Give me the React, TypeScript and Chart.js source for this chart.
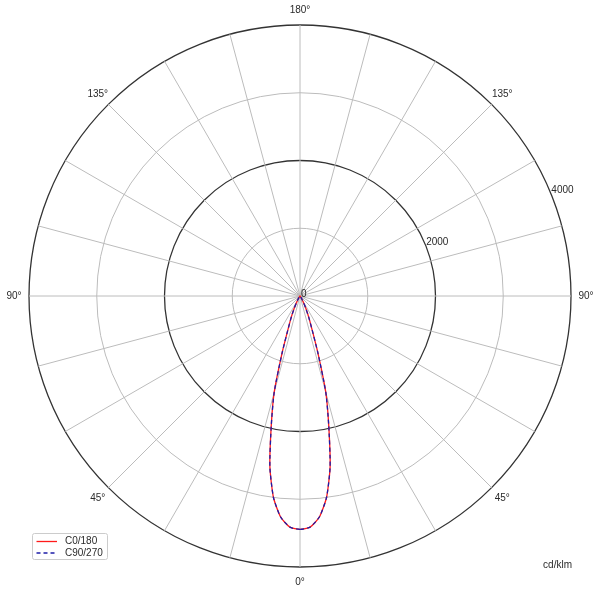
import { useEffect, useRef } from 'react';
import { Chart, registerables } from 'chart.js';

Chart.register(...registerables);

// luminous intensity in cd/klm, read every 2.5 deg of gamma from 0 to 35 (0 beyond)
const gammaStep = 2.5;
const c0_180 = [3445, 3415, 3275, 3000, 2560, 1960, 1470, 870, 500, 330, 205, 120, 60, 25, 0];
const c90_270 = [3445, 3415, 3275, 3000, 2560, 1960, 1470, 870, 500, 330, 205, 120, 60, 25, 0];
const seriesNames = ['C0/180', 'C90/270'];

const ringMax = 4000;
const ringStep = 1000;
const darkRings = [2000, 4000];
const tickLabels = [0, 2000, 4000];
const angleLabels = [0, 45, 90, 135, 180];
const unitLabel = 'cd/klm';

const FONT = '10px "Liberation Sans", Arial, sans-serif';
const TEXT = '#2a2a2a';
const GRID = '#bcbcbc';
const DARK = '#333333';

// index i of the radar sits at i*gammaStep degrees, clockwise from the bottom
const angles = Array.from({ length: 360 / gammaStep }, (_, i) => i * gammaStep);
const gammaOf = (a: number) => (a <= 180 ? a : 360 - a);
const fullCircle = (vals: number[]) =>
    angles.map(a => {
        const k = Math.round(gammaOf(a) / gammaStep);
        return k < vals.length ? vals[k] : 0;
    });

const labelsPlugin = {
    id: 'polarLabels',
    afterDraw(chart: any) {
        const scale = chart.scales.r;
        const ctx = chart.ctx as CanvasRenderingContext2D;
        const R = scale.drawingArea;
        ctx.save();
        ctx.font = FONT;
        ctx.fillStyle = TEXT;

        // angle labels
        ctx.textAlign = 'center';
        ctx.textBaseline = 'middle';
        angles.forEach((a, i) => {
            const g = gammaOf(a);
            if (!angleLabels.includes(g)) return;
            const p = scale.getPointPosition(i, R + 15);
            ctx.fillText(`${g}°`, p.x, p.y);
        });

        // radial tick labels, along 22.5 deg above the right horizontal
        const th = (22.5 * Math.PI) / 180;
        ctx.textAlign = 'left';
        ctx.textBaseline = 'alphabetic';
        tickLabels.forEach(v => {
            const d = scale.getDistanceFromCenterForValue(v);
            ctx.fillText(String(v), scale.xCenter + d * Math.cos(th) + 1, scale.yCenter - d * Math.sin(th) + 1);
        });

        // unit
        ctx.textAlign = 'right';
        ctx.textBaseline = 'middle';
        ctx.fillText(unitLabel, 572, 565);

        // legend box
        ctx.beginPath();
        ctx.roundRect(32.5, 533.5, 75, 26, 2);
        ctx.fillStyle = '#ffffff';
        ctx.fill();
        ctx.strokeStyle = '#cccccc';
        ctx.lineWidth = 1;
        ctx.stroke();
        chart.data.datasets.forEach((ds: any, k: number) => {
            const y = 541.5 + k * 11.5;
            ctx.beginPath();
            ctx.setLineDash(ds.borderDash || []);
            ctx.strokeStyle = ds.borderColor;
            ctx.lineWidth = 1.3;
            ctx.moveTo(36.5, y);
            ctx.lineTo(57, y);
            ctx.stroke();
            ctx.setLineDash([]);
            ctx.fillStyle = TEXT;
            ctx.textAlign = 'left';
            ctx.fillText(ds.label, 65, y);
        });
        ctx.restore();
    },
};

function App() {
    const canvasRef = useRef<HTMLCanvasElement>(null);
    const chartRef = useRef<Chart | null>(null);

    useEffect(() => {
        if (!canvasRef.current) return;
        if (chartRef.current) chartRef.current.destroy();

        chartRef.current = new Chart(canvasRef.current, {
            type: 'radar',
            data: {
                labels: angles.map(a => `${gammaOf(a)}°`),
                datasets: [
                    {
                        label: seriesNames[0],
                        data: fullCircle(c0_180),
                        borderColor: '#ff1a1a',
                        borderWidth: 1.3,
                        pointRadius: 0,
                        fill: false,
                        tension: 0.2,
                        order: 1,
                    },
                    {
                        // dashed curve drawn on top of the solid one
                        label: seriesNames[1],
                        data: fullCircle(c90_270),
                        borderColor: '#1c1ca8',
                        borderDash: [4, 3],
                        borderWidth: 1.3,
                        pointRadius: 0,
                        fill: false,
                        tension: 0.2,
                        order: 0,
                    },
                ],
            },
            options: {
                responsive: true,
                maintainAspectRatio: false,
                animation: false,
                layout: { padding: { left: 29, right: 29, top: 25, bottom: 28 } },
                scales: {
                    r: {
                        min: 0,
                        max: ringMax,
                        startAngle: 180,
                        ticks: { display: false, stepSize: ringStep },
                        pointLabels: { display: false },
                        grid: {
                            circular: true,
                            color: (c: any) => (darkRings.includes(c.tick?.value) ? DARK : GRID),
                            lineWidth: (c: any) => (darkRings.includes(c.tick?.value) ? 1.3 : 1),
                        },
                        angleLines: {
                            color: GRID,
                            lineWidth: (c: any) => ((c.index * gammaStep) % 15 === 0 ? 1 : 0),
                        },
                    },
                },
                plugins: {
                    legend: { display: false },
                    tooltip: { enabled: false },
                },
            },
            plugins: [labelsPlugin],
        });

        return () => {
            if (chartRef.current) {
                chartRef.current.destroy();
                chartRef.current = null;
            }
        };
    }, []);

    return (
        <div style={{ position: 'absolute', left: 0, top: 0, width: 600, height: 595, background: '#fff' }}>
            <canvas ref={canvasRef} />
        </div>
    );
}

export default App;
